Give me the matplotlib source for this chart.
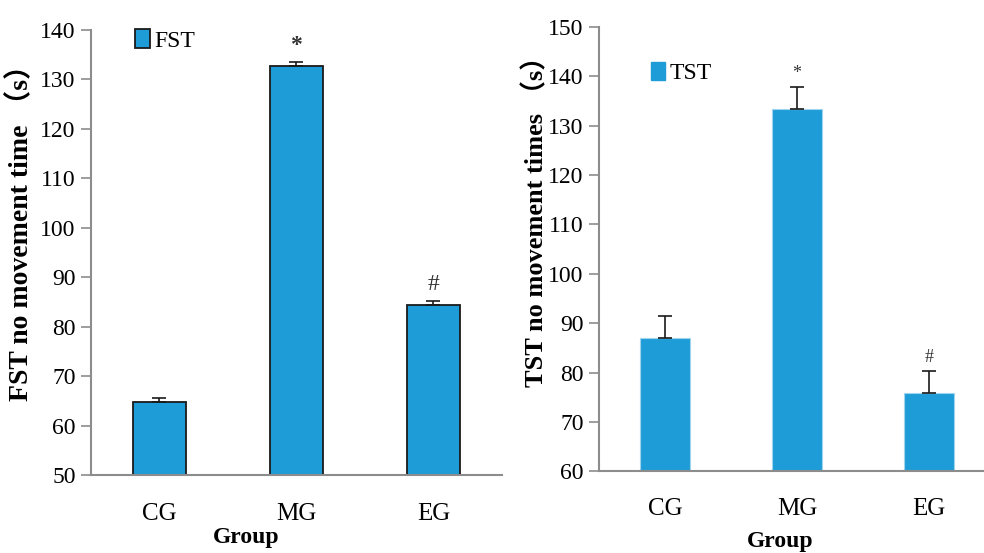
import matplotlib
matplotlib.use('Agg')
import matplotlib.pyplot as plt
from matplotlib.patches import Patch

groups = ['CG', 'MG', 'EG']
fst_mean = [64.8, 132.6, 84.4]
fst_err = [0.8, 0.9, 0.7]
tst_mean = [86.9, 133.3, 75.8]
tst_err = [4.5, 4.5, 4.6]
fst_marks = ['', '*', '#']
tst_marks = ['', '*', '#']

plt.rcParams['font.family'] = ['Liberation Serif', 'Noto Sans CJK SC']
blue = '#1e9cd7'
grey = '#8c8c8c'

fig = plt.figure(figsize=(9.84, 5.53), dpi=100)

ax1 = fig.add_axes([0.0925, 0.141, 0.4175, 0.805])
ax2 = fig.add_axes([0.6087, 0.1477, 0.3913, 0.804])

x = range(len(groups))

ax1.bar(x, fst_mean, width=0.39, color=blue, edgecolor='#1a1a1a', linewidth=1.3,
        yerr=[[0, 0, 0], fst_err], error_kw=dict(ecolor='#1a1a1a', elinewidth=1.2, capsize=5, capthick=1.2),
        zorder=2)
ax2.bar(x, tst_mean, width=0.38, color=blue, edgecolor='#9fd3ee', linewidth=0.8,
        yerr=[[0, 0, 0], tst_err], error_kw=dict(ecolor='#1a1a1a', elinewidth=1.2, capsize=5, capthick=1.2),
        zorder=2)

ax1.set_ylim(50, 140)
ax1.set_yticks(range(50, 141, 10))
ax1.set_xlim(-0.5, 2.5)
ax2.set_ylim(60, 150)
ax2.set_yticks(range(60, 151, 10))
ax2.set_xlim(-0.5, 2.417)

for ax, pad in ((ax1, 20), (ax2, 19)):
    ax.set_xticks(list(x))
    ax.set_xticklabels(groups, fontsize=18)
    ax.tick_params(axis='x', length=0, pad=pad)
    ax.tick_params(axis='y', direction='out', length=7, width=1.2, color=grey, labelsize=17, pad=4)
    for s in ('top', 'right'):
        ax.spines[s].set_visible(False)
    for s in ('left', 'bottom'):
        ax.spines[s].set_color(grey)
        ax.spines[s].set_linewidth(1.5)

for i, m in enumerate(fst_marks):
    if m:
        ax1.text(i, fst_mean[i] + fst_err[i] + 1.2, m, ha='center', va='bottom', fontsize=17,
                 fontweight='bold' if m == '*' else 'normal', color='#333333')
for i, m in enumerate(tst_marks):
    if m:
        ax2.text(i, tst_mean[i] + tst_err[i] + 1.0, m, ha='center', va='bottom', fontsize=13,
                 color='#333333')

ax1.legend(handles=[Patch(facecolor=blue, edgecolor='#1a1a1a', linewidth=1.3, label='FST')],
           loc='upper left', bbox_to_anchor=(0.128, 0.965), bbox_transform=fig.transFigure,
           frameon=False, fontsize=17, handlelength=0.6, handleheight=0.9, handletextpad=0.2,
           borderaxespad=0)
ax2.legend(handles=[Patch(facecolor=blue, edgecolor=blue, label='TST')],
           loc='upper left', bbox_to_anchor=(0.652, 0.905), bbox_transform=fig.transFigure,
           frameon=False, fontsize=17, handlelength=0.6, handleheight=0.8, handletextpad=0.2,
           borderaxespad=0)

fig.text(0.021, 1 - 226 / 553, 'FST no movement time （s）', rotation=90, ha='center', va='center',
         fontsize=20, fontweight='bold')
fig.text(0.544, 1 - 215 / 553, 'TST no movement times （s）', rotation=90, ha='center', va='center',
         fontsize=19, fontweight='bold')
fig.text(246 / 984, 1 - 538 / 553, 'Group', ha='center', va='center', fontsize=17, fontweight='bold')
fig.text(780 / 984, 1 - 541 / 553, 'Group', ha='center', va='center', fontsize=17, fontweight='bold')

fig.savefig('out.png', dpi=100)
